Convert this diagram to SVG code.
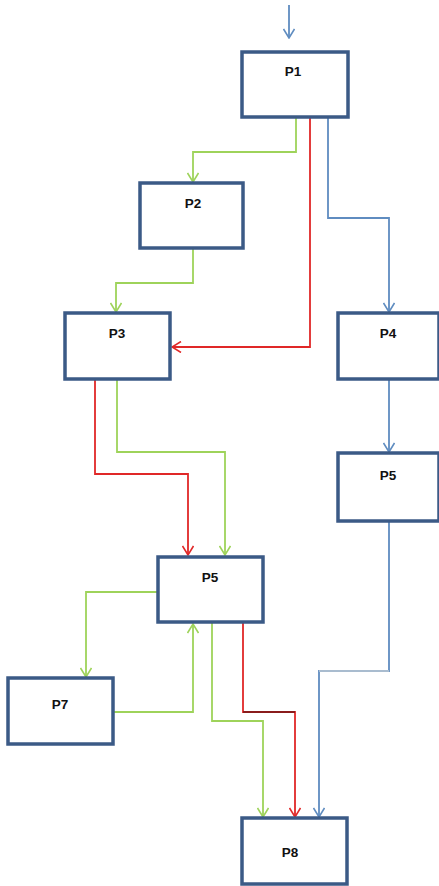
<svg xmlns="http://www.w3.org/2000/svg" width="439" height="886" viewBox="0 0 439 886">
<style>
.box{fill:#fff;stroke:#3b5a86;stroke-width:3.5}
.lbl{font-family:"Liberation Sans",Arial,sans-serif;font-size:13.5px;font-weight:bold;fill:#111;text-anchor:middle}
.g{fill:none;stroke:#9ed35a;stroke-width:1.8}
.r{fill:none;stroke:#e02828;stroke-width:1.8}
.b{fill:none;stroke:#5f8cc0;stroke-width:1.8}
</style>
<defs>
<marker id="ag" viewBox="0 0 12 12" refX="11" refY="6" markerWidth="12" markerHeight="12" markerUnits="userSpaceOnUse" orient="auto"><polyline points="2,0.5 11,6 2,11.5" fill="none" stroke="#9ed35a" stroke-width="1.6"/></marker>
<marker id="ar" viewBox="0 0 12 12" refX="11" refY="6" markerWidth="12" markerHeight="12" markerUnits="userSpaceOnUse" orient="auto"><polyline points="2,0.5 11,6 2,11.5" fill="none" stroke="#e02828" stroke-width="1.6"/></marker>
<marker id="ab" viewBox="0 0 12 12" refX="11" refY="6" markerWidth="12" markerHeight="12" markerUnits="userSpaceOnUse" orient="auto"><polyline points="2,0.5 11,6 2,11.5" fill="none" stroke="#5f8cc0" stroke-width="1.6"/></marker>
</defs>
<g id="connectors">
<path class="b" d="M289,5 V38" marker-end="url(#ab)"/>
<path class="g" d="M296,117 V152 H193 V182" marker-end="url(#ag)"/>
<path class="r" d="M310,117 V347 H172" marker-end="url(#ar)"/>
<path class="b" d="M328,117 V218 H389 V312" marker-end="url(#ab)"/>
<path class="g" d="M193,248 V283 H116 V312" marker-end="url(#ag)"/>
<path class="r" d="M95,380 V474 H188 V555" marker-end="url(#ar)"/>
<path class="g" d="M117,380 V452 H225 V555" marker-end="url(#ag)"/>
<path class="b" d="M389,380 V452" marker-end="url(#ab)"/>
<path class="g" d="M158,592 H86 V677" marker-end="url(#ag)"/>
<path class="g" d="M113,712 H193 V624" marker-end="url(#ag)"/>
<path class="g" d="M212,622 V721 H263 V817" marker-end="url(#ag)"/>
<path class="r" d="M243,622 V712 H295 V817" marker-end="url(#ar)"/>
<path d="M243,712 H295" fill="none" stroke="#8a1c1c" stroke-width="1.8"/>
<path class="b" d="M389,521 V671 H319 V817" marker-end="url(#ab)"/>
<path d="M389,671 H319" fill="none" stroke="#a9bccf" stroke-width="1.8"/>
</g>
<g id="P1"><rect class="box" x="242" y="52" width="106" height="65"/><text class="lbl" x="293" y="76">P1</text></g>
<g id="P2"><rect class="box" x="140" y="183" width="103" height="65"/><text class="lbl" x="193" y="208">P2</text></g>
<g id="P3"><rect class="box" x="65" y="313" width="105" height="66"/><text class="lbl" x="117" y="338">P3</text></g>
<g id="P4"><rect class="box" x="338" y="313" width="101" height="66"/><text class="lbl" x="388" y="338">P4</text></g>
<g id="P5b"><rect class="box" x="338" y="453" width="101" height="68"/><text class="lbl" x="388" y="480">P5</text></g>
<g id="P5"><rect class="box" x="158" y="557" width="105" height="65"/><text class="lbl" x="210" y="582">P5</text></g>
<g id="P7"><rect class="box" x="8" y="678" width="105" height="66"/><text class="lbl" x="60" y="709">P7</text></g>
<g id="P8"><rect class="box" x="242" y="818" width="105" height="66"/><text class="lbl" x="290" y="857">P8</text></g>
</svg>
